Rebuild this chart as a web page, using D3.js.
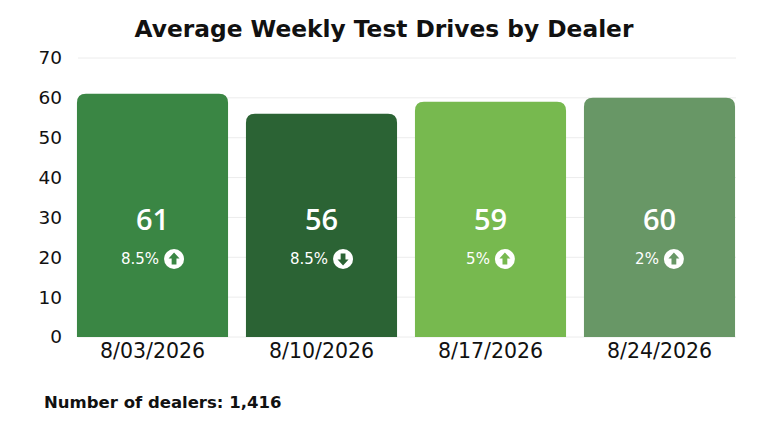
<!DOCTYPE html>
<html><head><meta charset="utf-8">
<script src="https://cdn.jsdelivr.net/npm/d3@7"></script>
<style>html,body{margin:0;padding:0;background:#fff;}svg{display:block;}</style>
</head><body>
<svg id="c" width="768" height="432"></svg>
<script>
const categories = ["8/03/2026","8/10/2026","8/17/2026","8/24/2026"];
const values = [61,56,59,60];
const changes = ["8.5%","8.5%","5%","2%"];
const directions = ["up","down","up","up"];
const barColors = ["#3a8644","#2b6334","#77b94f","#689766"];
const yTicks = [0,10,20,30,40,50,60,70];
const title = "Average Weekly Test Drives by Dealer";
const footer = "Number of dealers: 1,416";

const FONT = "'DejaVu Sans', sans-serif";
const FONT2 = "'Open Sans', sans-serif";
const svg = d3.select("#c");
const x = d3.scaleBand().domain(categories).range([68,744]).paddingInner(0.106).paddingOuter(0.053);
const y = d3.scaleLinear().domain([0,70]).range([337,58]);

svg.append("text").attr("x",384).attr("y",37).attr("text-anchor","middle")
  .attr("font-family",FONT).attr("font-weight","bold").attr("font-size",23.3).attr("fill","#111").text(title);

// grid
svg.append("g").selectAll("line").data(yTicks).join("line")
  .attr("x1",78).attr("x2",736).attr("y1",d=>y(d)).attr("y2",d=>y(d))
  .attr("stroke","#ececec").attr("stroke-width",1);

// y axis labels
const yAxis = d3.axisLeft(y).tickValues(yTicks).tickSize(0).tickPadding(0);
const ya = svg.append("g").attr("transform","translate(62,0)").call(yAxis);
ya.select(".domain").remove();
ya.selectAll("text").attr("font-family",FONT).attr("font-size",18.5).attr("fill","#111");

// bars with top rounded corners
const r = 9;
function barPath(x0,w,yt,yb){
  return `M${x0},${yb}V${yt+r}Q${x0},${yt} ${x0+r},${yt}H${x0+w-r}Q${x0+w},${yt} ${x0+w},${yt+r}V${yb}Z`;
}
const g = svg.append("g").selectAll("g").data(categories).join("g");
g.append("path").attr("d",(d,i)=>barPath(x(d),x.bandwidth(),y(values[i]),y(0))).attr("fill",(d,i)=>barColors[i]);

g.append("text").attr("x",d=>x(d)+x.bandwidth()/2).attr("y",230)
  .attr("text-anchor","middle").attr("font-family",FONT2).attr("font-weight",600).attr("font-size",29).attr("fill","#fff")
  .text((d,i)=>values[i]);

// percentage + icon
g.each(function(d,i){
  const gg = d3.select(this);
  const cx = x(d)+x.bandwidth()/2;
  const t = gg.append("text").attr("y",264).attr("font-family",FONT).attr("font-size",15).attr("fill","#fff").text(changes[i]);
  const tw = t.node().getComputedTextLength();
  const rad = 10, gap = 5;
  const total = tw+gap+2*rad;
  const sx = cx-total/2;
  t.attr("x",sx);
  const icx = sx+tw+gap+rad, icy = 259;
  gg.append("circle").attr("cx",icx).attr("cy",icy).attr("r",rad).attr("fill","#fff");
  const s = directions[i]==="up"?-1:1;
  const p = `M${icx},${icy+s*6.5}L${icx-5.5},${icy+s*0.5}L${icx-2.4},${icy+s*0.5}L${icx-2.4},${icy-s*5.5}L${icx+2.4},${icy-s*5.5}L${icx+2.4},${icy+s*0.5}L${icx+5.5},${icy+s*0.5}Z`;
  gg.append("path").attr("d",p).attr("fill",barColors[i]);
});

// x axis labels
const xAxis = d3.axisBottom(x).tickSize(0).tickPadding(0);
const xa = svg.append("g").attr("transform","translate(0,343)").call(xAxis);
xa.select(".domain").remove();
xa.selectAll("text").attr("font-family",FONT).attr("font-size",20.5).attr("fill","#111").attr("dy","0.71em");

svg.append("text").attr("x",44).attr("y",408).attr("font-family",FONT).attr("font-weight","bold")
  .attr("font-size",16.5).attr("fill","#111").text(footer);
</script>
</body></html>
